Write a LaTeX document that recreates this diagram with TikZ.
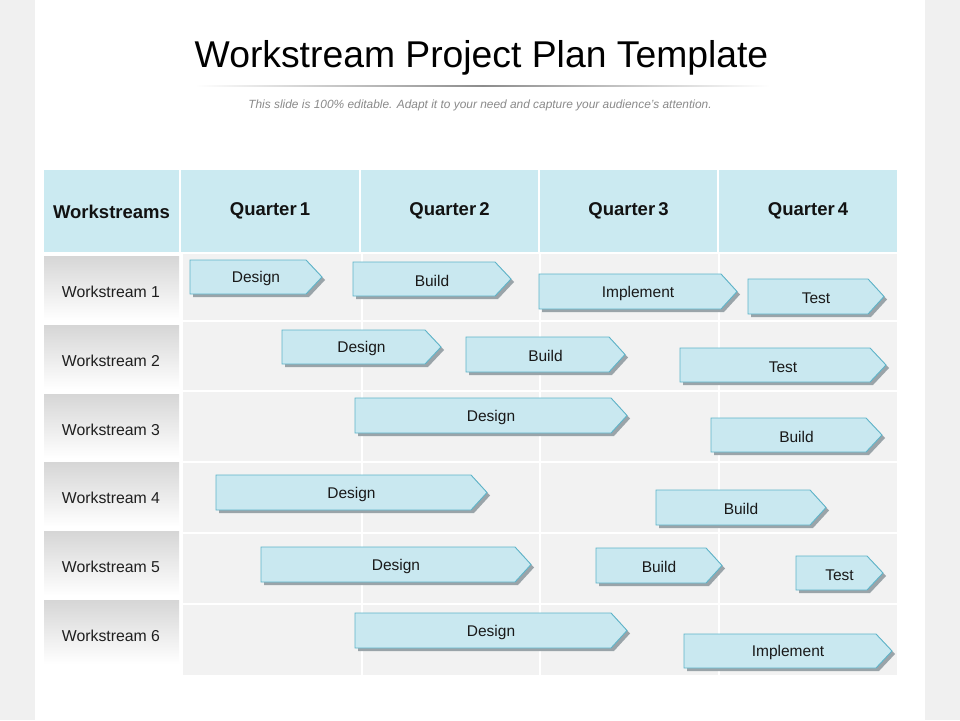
\documentclass[tikz,border=0pt]{standalone}
\usepackage{fontspec}
\setmainfont{Liberation Sans}
\usetikzlibrary{calc}
\definecolor{pagegray}{HTML}{F0F0F0}
\definecolor{bodygray}{HTML}{F2F2F2}
\definecolor{headblue}{HTML}{CBEAF1}
\definecolor{barfill}{HTML}{C9E8F0}
\definecolor{bardraw}{HTML}{5EB4C9}
\definecolor{barshadow}{HTML}{9AA4A9}
\definecolor{labeltop}{HTML}{D6D6D6}
\definecolor{subgray}{HTML}{8A8A8A}
\tikzset{
  headtext/.style={font=\bfseries\fontsize{18.5}{20}\selectfont, text=black!93, yshift=-2.5pt},
  labeltext/.style={font=\fontsize{15.8}{18}\selectfont, text=black!88},
  bartext/.style={font=\fontsize{15.5}{18}\selectfont, text=black!90, inner sep=0pt, yshift=-1.8pt},
  barshape/.style={fill=barfill, draw=bardraw, line width=0.9pt},
  barshade/.style={fill=barshadow},
  gridline/.style={draw=white, line width=1.6pt},
}
% name, x1, y1, x2, y2, text
\newcommand\ganttbar[6]{%
  \fill[barshade] ({#2+3},{#3+3}) -- ({#4-16+3},{#3+3}) -- ({#4+3},{(#3+#5)/2+3}) -- ({#4-16+3},{#5+3}) -- ({#2+3},{#5+3}) -- cycle;
  \path[barshape] (#2,#3) -- ({#4-16},#3) -- (#4,{(#3+#5)/2}) -- ({#4-16},#5) -- (#2,#5) -- cycle;
  \node[bartext] (#1) at ({(#2+#4)/2},{(#3+#5)/2}) {#6};
}
\begin{document}
\begin{tikzpicture}[x=1pt,y=-1pt]
\useasboundingbox (0,0) rectangle (960,720);
% page background
\fill[white] (0,0) rectangle (960,720);
\fill[pagegray] (0,0) rectangle (35,720);
\fill[pagegray] (925,0) rectangle (960,720);
% title
\node[anchor=base, font=\fontsize{37.3}{40}\selectfont, text=black, inner sep=0pt] (title) at (481.5,67) {Workstream Project Plan Template};
\shade[left color=white, right color=white, middle color=black!45] (195,85.5) rectangle (770,86.7);
\node[anchor=base, font=\itshape\fontsize{11.9}{13}\selectfont, text=subgray, inner sep=0pt] (subtitle) at (480,108) {This slide is 100\% editable. Adapt it to your need and capture your audience’s attention.};
% header
\fill[headblue] (44,170) rectangle (179,252);
\fill[headblue] (181,170) rectangle (359,252);
\fill[headblue] (361,170) rectangle (538,252);
\fill[headblue] (540,170) rectangle (717,252);
\fill[headblue] (719,170) rectangle (897,252);
\node[headtext] (hws) at (111.5,209) {Workstreams};
\node[headtext] (hq1) at (270,208) {Quarter\,1};
\node[headtext] (hq2) at (449.5,208) {Quarter\,2};
\node[headtext] (hq3) at (628.5,208) {Quarter\,3};
\node[headtext] (hq4) at (808,208) {Quarter\,4};
% body
\fill[bodygray] (183,254) rectangle (897,675);
\foreach \yy in {321,391,462,533,604} \draw[gridline] (183,\yy) -- (897,\yy);
\foreach \xx in {362,540,719} \draw[gridline] (\xx,254) -- (\xx,675);
% row labels
\foreach \i/\yt in {1/256,2/325,3/394,4/462.5,5/531.5,6/600} {
  \shade[top color=labeltop, bottom color=white] (44,\yt) rectangle (179,{\yt+64});
  \node[labeltext] (ws\i) at (111,{\yt+35.5}) {Workstream \i};
}
% bars
\ganttbar{r1a}{190}{260}{322}{294}{Design}
\ganttbar{r1b}{353}{262}{511}{296}{Build}
\ganttbar{r1c}{539}{274}{737}{309}{Implement}
\ganttbar{r1d}{748}{279}{884}{314}{Test}
\ganttbar{r2a}{282}{330}{441}{364}{Design}
\ganttbar{r2b}{466}{337}{625}{372}{Build}
\ganttbar{r2c}{680}{348}{886}{382}{Test}
\ganttbar{r3a}{355}{398}{627}{433}{Design}
\ganttbar{r3b}{711}{418}{882}{452}{Build}
\ganttbar{r4a}{216}{475}{487}{510}{Design}
\ganttbar{r4b}{656}{490}{826}{525}{Build}
\ganttbar{r5a}{261}{547}{531}{582}{Design}
\ganttbar{r5b}{596}{548}{722}{583}{Build}
\ganttbar{r5c}{796}{556}{883}{590}{Test}
\ganttbar{r6a}{355}{613}{627}{648}{Design}
\ganttbar{r6b}{684}{634}{892}{668}{Implement}
\end{tikzpicture}
\end{document}
